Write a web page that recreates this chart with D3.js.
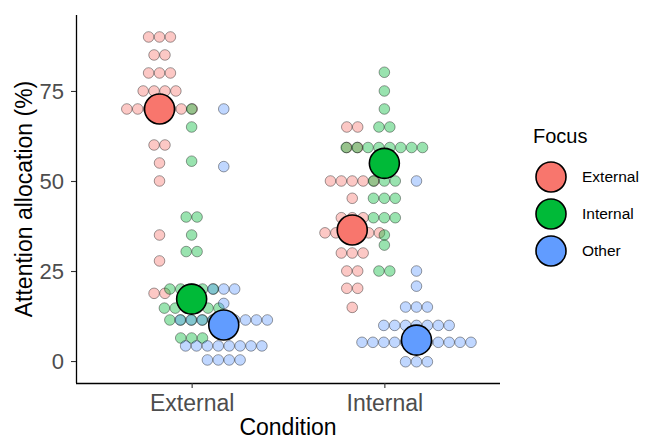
<!DOCTYPE html>
<html>
<head>
<meta charset="utf-8">
<script src="https://cdn.jsdelivr.net/npm/d3@7"></script>
<style>
  body { margin: 0; background: #fff; }
  text { font-family: "Liberation Sans", Arial, Helvetica, sans-serif; }
</style>
</head>
<body>
<div id="chart"></div>
<script>
// categories
const conditions = ["External", "Internal"];
const focusLevels = ["External", "Internal", "Other"];
const focusColors = ["#F8766D", "#00BA38", "#619CFF"];
const yTicks = [0, 25, 50, 75];

// dot bins (%) and how many dots are stacked in each bin
// condition External
const extExtBins = [90, 85, 80, 75, 70, 60, 55, 50, 35, 27.8, 18.8];
const extExtCounts = [3, 2, 3, 4, 7, 2, 1, 1, 1, 1, 2];
const extIntBins = [70, 65, 55.5, 40, 35, 30.4, 20, 14.7, 11.4, 6.4];
const extIntCounts = [1, 1, 1, 2, 1, 2, 5, 6, 5, 3];
const extOthBins = [70, 54, 20, 16, 11.4, 4.2, 0.3];
const extOthCounts = [1, 1, 3, 1, 9, 8, 4];
// condition Internal
const intExtBins = [65, 59.3, 50, 45.2, 39.8, 35.6, 30, 25, 20.2, 14.9];
const intExtCounts = [2, 2, 5, 1, 3, 6, 3, 2, 2, 1];
const intIntBins = [80.2, 75, 70, 65, 59.3, 50, 45.2, 39.8, 35, 32.2, 25];
const intIntCounts = [1, 1, 1, 2, 8, 3, 3, 3, 1, 1, 2];
const intOthBins = [50, 25, 20.8, 15, 9.9, 5.2, -0.2];
const intOthCounts = [1, 1, 1, 3, 7, 11, 3];

// group means, one per condition
const meanExternal = [70, 36.4];
const meanInternal = [17.2, 54.9];
const meanOther = [10, 5.8];

let width = 647
let height = 441

let panel = { left: 76, right: 500, top: 15, bottom: 383 }

var svg = d3.select("#chart")
    .append("svg")
    .attr("width", width)
    .attr("height", height)

var xScale = d3.scalePoint()
    .domain(conditions)
    .range([panel.left, panel.right])
    .padding(0.6)

// dodge inside each condition
var dodge = d3.scaleBand()
    .domain(focusLevels)
    .range([-xScale.step() / 4, xScale.step() / 4])

var yScale = d3.scaleLinear()
    .domain([-6.1, 96.1])
    .range([panel.bottom, panel.top])

var colour = d3.scaleOrdinal().domain(focusLevels).range(focusColors)

// expand bins into single dots, stacked centred on the group
let groups = [
    { cond: "External", focus: "External", bins: extExtBins, counts: extExtCounts },
    { cond: "External", focus: "Internal", bins: extIntBins, counts: extIntCounts },
    { cond: "External", focus: "Other", bins: extOthBins, counts: extOthCounts },
    { cond: "Internal", focus: "External", bins: intExtBins, counts: intExtCounts },
    { cond: "Internal", focus: "Internal", bins: intIntBins, counts: intIntCounts },
    { cond: "Internal", focus: "Other", bins: intOthBins, counts: intOthCounts }
]

let dotSpacing = 10.9
let dots = []
groups.forEach(function(g){
    g.bins.forEach(function(v, i){
        let n = g.counts[i]
        for (let k = 0; k < n; k++) {
            dots.push({ cond: g.cond, focus: g.focus, value: v, offset: (k - (n - 1) / 2) * dotSpacing })
        }
    })
})

function groupX(cond, focus){
    return xScale(cond) + dodge(focus) + dodge.bandwidth() / 2
}

svg.append("g")
    .selectAll("circle")
    .data(dots)
    .enter()
    .append("circle")
    .attr("cx", d => groupX(d.cond, d.focus) + d.offset)
    .attr("cy", d => yScale(d.value))
    .attr("r", 5.3)
    .style("fill", d => colour(d.focus))
    .style("fill-opacity", 0.4)
    .style("stroke", "#000")
    .style("stroke-opacity", 0.38)
    .style("stroke-width", 1)

// mean points
let means = []
conditions.forEach(function(c, i){
    means.push({ cond: c, focus: "External", value: meanExternal[i] })
    means.push({ cond: c, focus: "Internal", value: meanInternal[i] })
    means.push({ cond: c, focus: "Other", value: meanOther[i] })
})

svg.append("g")
    .selectAll("circle")
    .data(means)
    .enter()
    .append("circle")
    .attr("cx", d => groupX(d.cond, d.focus))
    .attr("cy", d => yScale(d.value))
    .attr("r", 15)
    .style("fill", d => colour(d.focus))
    .style("stroke", "#000")
    .style("stroke-width", 1.6)

// axes
let xAxis = d3.axisBottom(xScale).tickSize(5).tickPadding(7)
let yAxis = d3.axisLeft(yScale).tickValues(yTicks).tickSize(5).tickPadding(7)

let gx = svg.append("g")
    .attr("transform", `translate(0, ${panel.bottom})`)
    .call(xAxis)
gx.select(".domain").attr("d", `M${panel.left},0.5H${panel.right}`)

let gy = svg.append("g")
    .attr("transform", `translate(${panel.left}, 0)`)
    .call(yAxis)
gy.select(".domain").attr("d", `M0.5,${panel.top}V${panel.bottom}`)

svg.selectAll(".domain").style("stroke", "#000").style("stroke-width", 1.3)
svg.selectAll(".tick line").style("stroke", "#333").style("stroke-width", 1.1)
gx.selectAll(".tick text").style("font-size", "23px").style("fill", "#4D4D4D")
    .style("font-family", "'Liberation Sans', Arial, sans-serif")
gy.selectAll(".tick text").style("font-size", "22px").style("fill", "#4D4D4D")
    .style("font-family", "'Liberation Sans', Arial, sans-serif")

// axis titles
svg.append("text")
    .attr("x", (panel.left + panel.right) / 2)
    .attr("y", 435)
    .attr("text-anchor", "middle")
    .style("font-size", "23px")
    .text("Condition")

svg.append("text")
    .attr("transform", `translate(32, ${(panel.top + panel.bottom) / 2}) rotate(-90)`)
    .attr("text-anchor", "middle")
    .style("font-size", "23px")
    .text("Attention allocation (%)")

// legend
let legend = svg.append("g").attr("transform", "translate(533, 0)")
legend.append("text")
    .attr("x", 0)
    .attr("y", 143)
    .style("font-size", "20px")
    .text("Focus")

let keys = legend.selectAll("g.key")
    .data(focusLevels)
    .enter()
    .append("g")
    .attr("class", "key")
    .attr("transform", (d, i) => `translate(0, ${177 + i * 37})`)

keys.append("circle")
    .attr("cx", 18)
    .attr("cy", 0)
    .attr("r", 15)
    .style("fill", d => colour(d))
    .style("stroke", "#000")
    .style("stroke-width", 1.6)

keys.append("text")
    .attr("x", 49)
    .attr("y", 0)
    .attr("dy", "0.35em")
    .style("font-size", "15.5px")
    .text(d => d)
</script>
</body>
</html>
